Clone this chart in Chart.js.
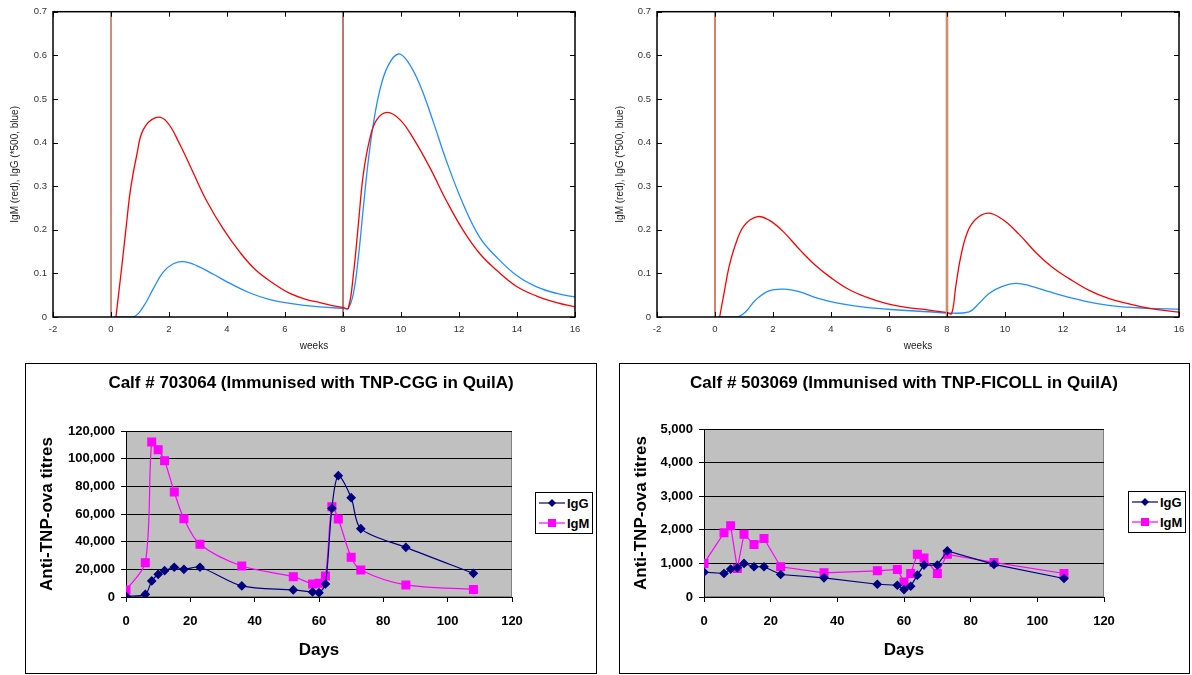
<!DOCTYPE html>
<html>
<head>
<meta charset="utf-8">
<script src="https://cdn.jsdelivr.net/npm/chart.js@4.4.1/dist/chart.umd.min.js"></script>
<style>
  body { margin: 0; background: #fff; width: 1192px; height: 675px; position: relative; overflow: hidden; font-family: "Liberation Sans", Arial, sans-serif; }
  canvas { position: absolute; }
  .frame { position: absolute; border: 1px solid #000; box-sizing: border-box; }
  .legend { position: absolute; border: 1px solid #000; background: #fff; box-sizing: border-box; font: bold 13px "Liberation Sans", Arial, sans-serif; }
  .legend div { height: 20px; display: flex; align-items: center; padding-left: 3px; }
  .legend svg { margin-right: 2px; }
</style>
</head>
<body>
<canvas id="topLeft" width="596" height="355" style="left:0;top:0"></canvas>
<canvas id="topRight" width="592" height="355" style="left:600px;top:0"></canvas>

<div class="frame" style="left:25px;top:363px;width:572px;height:311px"></div>
<canvas id="calf703" width="570" height="309" style="left:26px;top:364px"></canvas>
<div class="legend" id="legend703" style="left:535px;top:492px;width:58px;height:42px"></div>

<div class="frame" style="left:619px;top:363px;width:571px;height:311px"></div>
<canvas id="calf503" width="568" height="309" style="left:620px;top:364px"></canvas>
<div class="legend" id="legend503" style="left:1128px;top:491px;width:58px;height:42px"></div>

<script>
// ---- model curves (weeks, value) ----
const topLeftIgM = [[0.17,0],[0.37,0.114],[0.52,0.205],[0.68,0.296],[0.89,0.372],[1.11,0.429],[1.54,0.457],[1.92,0.448],[2.38,0.395],[2.84,0.33],[3.3,0.266],[3.87,0.202],[4.45,0.148],[5.0,0.107],[5.6,0.077],[6.17,0.054],[6.75,0.04],[7.2,0.033],[7.55,0.027],[8.0,0.022],
  [8.18,0.02],[8.36,0.099],[8.53,0.213],[8.7,0.327],[8.93,0.41],[9.16,0.452],[9.53,0.469],[9.97,0.452],[10.42,0.41],[11.0,0.342],[11.57,0.266],[12.15,0.198],[12.72,0.145],[13.3,0.107],[13.99,0.07],[14.68,0.048],[15.37,0.033],[16.0,0.023]];
const topLeftIgG = [[0.1,0],[0.77,0],[1.11,0.023],[1.46,0.065],[1.8,0.103],[2.15,0.122],[2.49,0.127],[2.95,0.118],[3.53,0.098],[4.1,0.077],[4.79,0.055],[5.48,0.04],[6.17,0.031],[7.2,0.023],[8.0,0.02],
  [8.18,0.02],[8.36,0.054],[8.53,0.137],[8.7,0.25],[8.87,0.357],[9.04,0.44],[9.28,0.523],[9.56,0.577],[9.91,0.603],[10.25,0.584],[10.66,0.531],[11.11,0.448],[11.57,0.357],[12.15,0.258],[12.72,0.182],[13.3,0.137],[13.99,0.095],[14.68,0.069],[15.37,0.054],[16.0,0.046]];
const topRightIgM = [[0.16,0],[0.31,0.054],[0.48,0.114],[0.71,0.167],[1.0,0.209],[1.46,0.23],[1.86,0.222],[2.32,0.198],[2.9,0.156],[3.47,0.118],[4.04,0.088],[4.62,0.063],[5.2,0.046],[5.89,0.031],[6.58,0.022],[7.38,0.016],[8.0,0.01],
  [8.16,0.008],[8.3,0.069],[8.47,0.137],[8.7,0.194],[8.99,0.224],[9.42,0.238],[9.91,0.224],[10.48,0.19],[11.06,0.148],[11.63,0.114],[12.21,0.088],[12.9,0.061],[13.59,0.042],[14.28,0.03],[14.97,0.02],[16.0,0.011]];
const topRightIgG = [[0.1,0],[0.77,0],[1.06,0.012],[1.4,0.039],[1.86,0.06],[2.38,0.064],[2.9,0.058],[3.59,0.042],[4.28,0.031],[5.2,0.022],[6.34,0.016],[7.38,0.012],[8.0,0.009],
  [8.76,0.012],[9.1,0.031],[9.45,0.054],[9.91,0.07],[10.37,0.077],[10.83,0.072],[11.52,0.058],[12.21,0.045],[13.13,0.031],[14.04,0.023],[14.97,0.02],[16.0,0.018]];
const injectionWeeks = [0, 8];
const weekTicks = [-2, 0, 2, 4, 6, 8, 10, 12, 14, 16];

// ---- calf titres ----
const sampleDays = [0, 6, 8, 10, 12, 15, 18, 23, 36, 52, 58, 60, 62, 64, 66, 70, 73, 87, 108];
const igG703064 = [500, 1900, 11600, 16400, 19000, 21500, 20000, 21500, 8000, 5100, 3600, 3100, 9400, 64100, 87700, 71800, 49400, 35900, 17100];
const igM703064 = [5000, 24800, 112000, 106500, 98500, 75900, 56600, 38100, 22400, 14700, 9400, 9900, 15200, 65300, 56400, 28700, 19500, 8700, 5500];
const igG503069 = [740, 700, 830, 870, 1000, 900, 900, 670, 570, 380, 350, 220, 320, 650, 950, 950, 1370, 970, 550];
const igM503069 = [1000, 1910, 2120, 850, 1870, 1560, 1740, 900, 720, 780, 820, 450, 700, 1270, 1160, 700, 1270, 1030, 700];

const FONT = '"Liberation Sans", Arial, sans-serif';

// ========================================
// top: model curves
// ========================================

function curve(pairs, color) {
    return {
        data: pairs.map(p => ({ x: p[0], y: p[1] })),
        borderColor: color,
        borderWidth: 1.3,
        pointRadius: 0,
        showLine: true,
        tension: 0.4
    };
}

function vline(week, color, width) {
    return {
        data: [{ x: week, y: 0 }, { x: week, y: 0.7 }],
        borderColor: color,
        borderWidth: width,
        pointRadius: 0,
        showLine: true,
        tension: 0
    };
}

// inward tick marks on all four sides + frame
const frameTicks = {
    id: 'frameTicks',
    afterDraw(chart) {
        const { ctx, chartArea: a, scales: { x, y } } = chart;
        ctx.save();
        ctx.strokeStyle = '#000';
        ctx.lineWidth = 1;
        ctx.beginPath();
        x.ticks.forEach(t => {
            const px = Math.round(x.getPixelForValue(t.value)) + 0.5;
            ctx.moveTo(px, a.bottom); ctx.lineTo(px, a.bottom - 5);
            ctx.moveTo(px, a.top); ctx.lineTo(px, a.top + 5);
        });
        y.ticks.forEach(t => {
            const py = Math.round(y.getPixelForValue(t.value)) + 0.5;
            ctx.moveTo(a.left, py); ctx.lineTo(a.left + 5, py);
            ctx.moveTo(a.right, py); ctx.lineTo(a.right - 5, py);
        });
        ctx.stroke();
        ctx.lineWidth = 1.5;
        ctx.strokeRect(a.left, a.top, a.right - a.left, a.bottom - a.top);
        ctx.restore();
    }
};

function modelChart(id, igM, igG, lineColors, lineWidths, yWidth, rightPad, titlePad) {
    const datasets = [
        vline(injectionWeeks[0], lineColors[0], lineWidths[0]),
        vline(injectionWeeks[1], lineColors[1], lineWidths[1]),
        curve(igM, '#ff0000'),
        curve(igG, '#1e8fff')
    ];
    return new Chart(document.getElementById(id), {
        type: 'scatter',
        data: { datasets },
        plugins: [frameTicks],
        options: {
            responsive: false,
            animation: false,
            devicePixelRatio: 1,
            layout: { padding: { top: 9, right: rightPad, left: 0, bottom: 0 } },
            plugins: { legend: { display: false }, tooltip: { enabled: false } },
            scales: {
                x: {
                    type: 'linear', min: -2, max: 16,
                    afterBuildTicks: s => { s.ticks = weekTicks.map(v => ({ value: v })); },
                    afterFit: s => { s.height = 38; },
                    grid: { display: false, drawTicks: false }, border: { display: false },
                    ticks: { color: '#333', font: { family: FONT, size: 9.5 }, padding: 7, maxRotation: 0 },
                    title: { display: true, text: 'weeks', color: '#222', font: { family: FONT, size: 10 }, padding: { top: 2, bottom: 3 } }
                },
                y: {
                    min: 0, max: 0.7,
                    ticks: { stepSize: 0.1, color: '#333', font: { family: FONT, size: 9.5 }, padding: 6 },
                    afterFit: s => { s.width = yWidth; },
                    grid: { display: false, drawTicks: false }, border: { display: false },
                    title: { display: true, text: 'IgM (red), IgG (*500, blue)', color: '#222', font: { family: FONT, size: 10 }, padding: { top: titlePad, bottom: 0 } }
                }
            }
        }
    });
}

modelChart('topLeft', topLeftIgM, topLeftIgG, ['#b5532d', '#9a3020'], [1.3, 1.3], 53, 21, 9);
modelChart('topRight', topRightIgM, topRightIgG, ['#c8653d', '#d48c6a'], [1.6, 2.6], 57, 13, 14);

// ========================================
// bottom: calf titres (Excel style)
// ========================================

const plotBackground = {
    id: 'plotBackground',
    beforeDraw(chart) {
        const { ctx, chartArea: a } = chart;
        ctx.save();
        ctx.fillStyle = '#c0c0c0';
        ctx.fillRect(a.left, a.top, a.right - a.left, a.bottom - a.top);
        ctx.strokeStyle = '#808080';
        ctx.lineWidth = 1;
        ctx.strokeRect(a.left + 0.5, a.top + 0.5, a.right - a.left - 1, a.bottom - a.top - 1);
        ctx.restore();
    }
};

function titreChart(id, title, igG, igM, yMax, yStep, yWidth, topSpace, tension) {
    const points = vals => sampleDays.map((d, i) => ({ x: d, y: vals[i] }));
    return new Chart(document.getElementById(id), {
        type: 'scatter',
        data: {
            datasets: [{
                label: 'IgG',
                data: points(igG),
                showLine: true,
                tension: tension,
                borderColor: '#000080',
                backgroundColor: '#000080',
                borderWidth: 1.2,
                pointStyle: 'rectRot',
                pointRadius: 4
            }, {
                label: 'IgM',
                data: points(igM),
                showLine: true,
                tension: tension,
                borderColor: '#ff00ff',
                backgroundColor: '#ff00ff',
                borderWidth: 1.2,
                pointStyle: 'rect',
                pointRadius: 5.5
            }]
        },
        plugins: [plotBackground],
        options: {
            responsive: false,
            animation: false,
            devicePixelRatio: 1,
            layout: { padding: 0 },
            plugins: {
                legend: { display: false },
                tooltip: { enabled: false },
                title: {
                    display: true,
                    text: title,
                    color: '#000',
                    font: { family: FONT, size: 17, weight: 'bold' },
                    padding: { top: 9, bottom: topSpace - 9 - 20.4 }
                }
            },
            scales: {
                x: {
                    type: 'linear', min: 0, max: 120,
                    ticks: { stepSize: 20, color: '#000', font: { family: FONT, size: 13, weight: 'bold' }, padding: 12, maxRotation: 0 },
                    afterFit: s => { s.height = 76; },
                    grid: { drawOnChartArea: false, color: '#000', tickLength: 5 },
                    border: { color: '#000' },
                    title: { display: true, text: 'Days', color: '#000', font: { family: FONT, size: 17, weight: 'bold' }, padding: { top: 0, bottom: 12 } }
                },
                y: {
                    min: 0, max: yMax,
                    ticks: {
                        stepSize: yStep, color: '#000', font: { family: FONT, size: 13, weight: 'bold' }, padding: 6,
                        callback: v => v.toLocaleString('en-US')
                    },
                    afterFit: s => { s.width = yWidth; },
                    grid: { color: '#000', tickLength: 5 },
                    border: { color: '#000' },
                    title: { display: true, text: 'Anti-TNP-ova titres', color: '#000', font: { family: FONT, size: 17, weight: 'bold' }, padding: { top: 11, bottom: 0 } }
                },
                // empty right-hand band that holds the legend area, keeps the title centred
                side: {
                    position: 'right',
                    afterFit: s => { s.width = 84; },
                    grid: { display: false, drawTicks: false },
                    border: { display: false },
                    ticks: { display: false }
                }
            }
        }
    });
}

titreChart('calf703', 'Calf # 703064 (Immunised with TNP-CGG in QuilA)', igG703064, igM703064, 120000, 20000, 100, 67, 0.3);
titreChart('calf503', 'Calf # 503069 (Immunised with TNP-FICOLL in QuilA)', igG503069, igM503069, 5000, 1000, 84, 65, 0);

// HTML legend boxes
function buildLegend(id) {
    const items = [
        { name: 'IgG', color: '#000080', marker: '<polygon points="13,1 17,5 13,9 9,5" fill="#000080"/>' },
        { name: 'IgM', color: '#ff00ff', marker: '<rect x="9" y="1" width="8" height="8" fill="#ff00ff"/>' }
    ];
    document.getElementById(id).innerHTML = items.map(it =>
        '<div><svg width="26" height="10"><line x1="0" y1="5" x2="26" y2="5" stroke="' + it.color + '" stroke-width="1.2"/>' +
        it.marker + '</svg>' + it.name + '</div>').join('');
}
buildLegend('legend703');
buildLegend('legend503');
</script>
</body>
</html>
